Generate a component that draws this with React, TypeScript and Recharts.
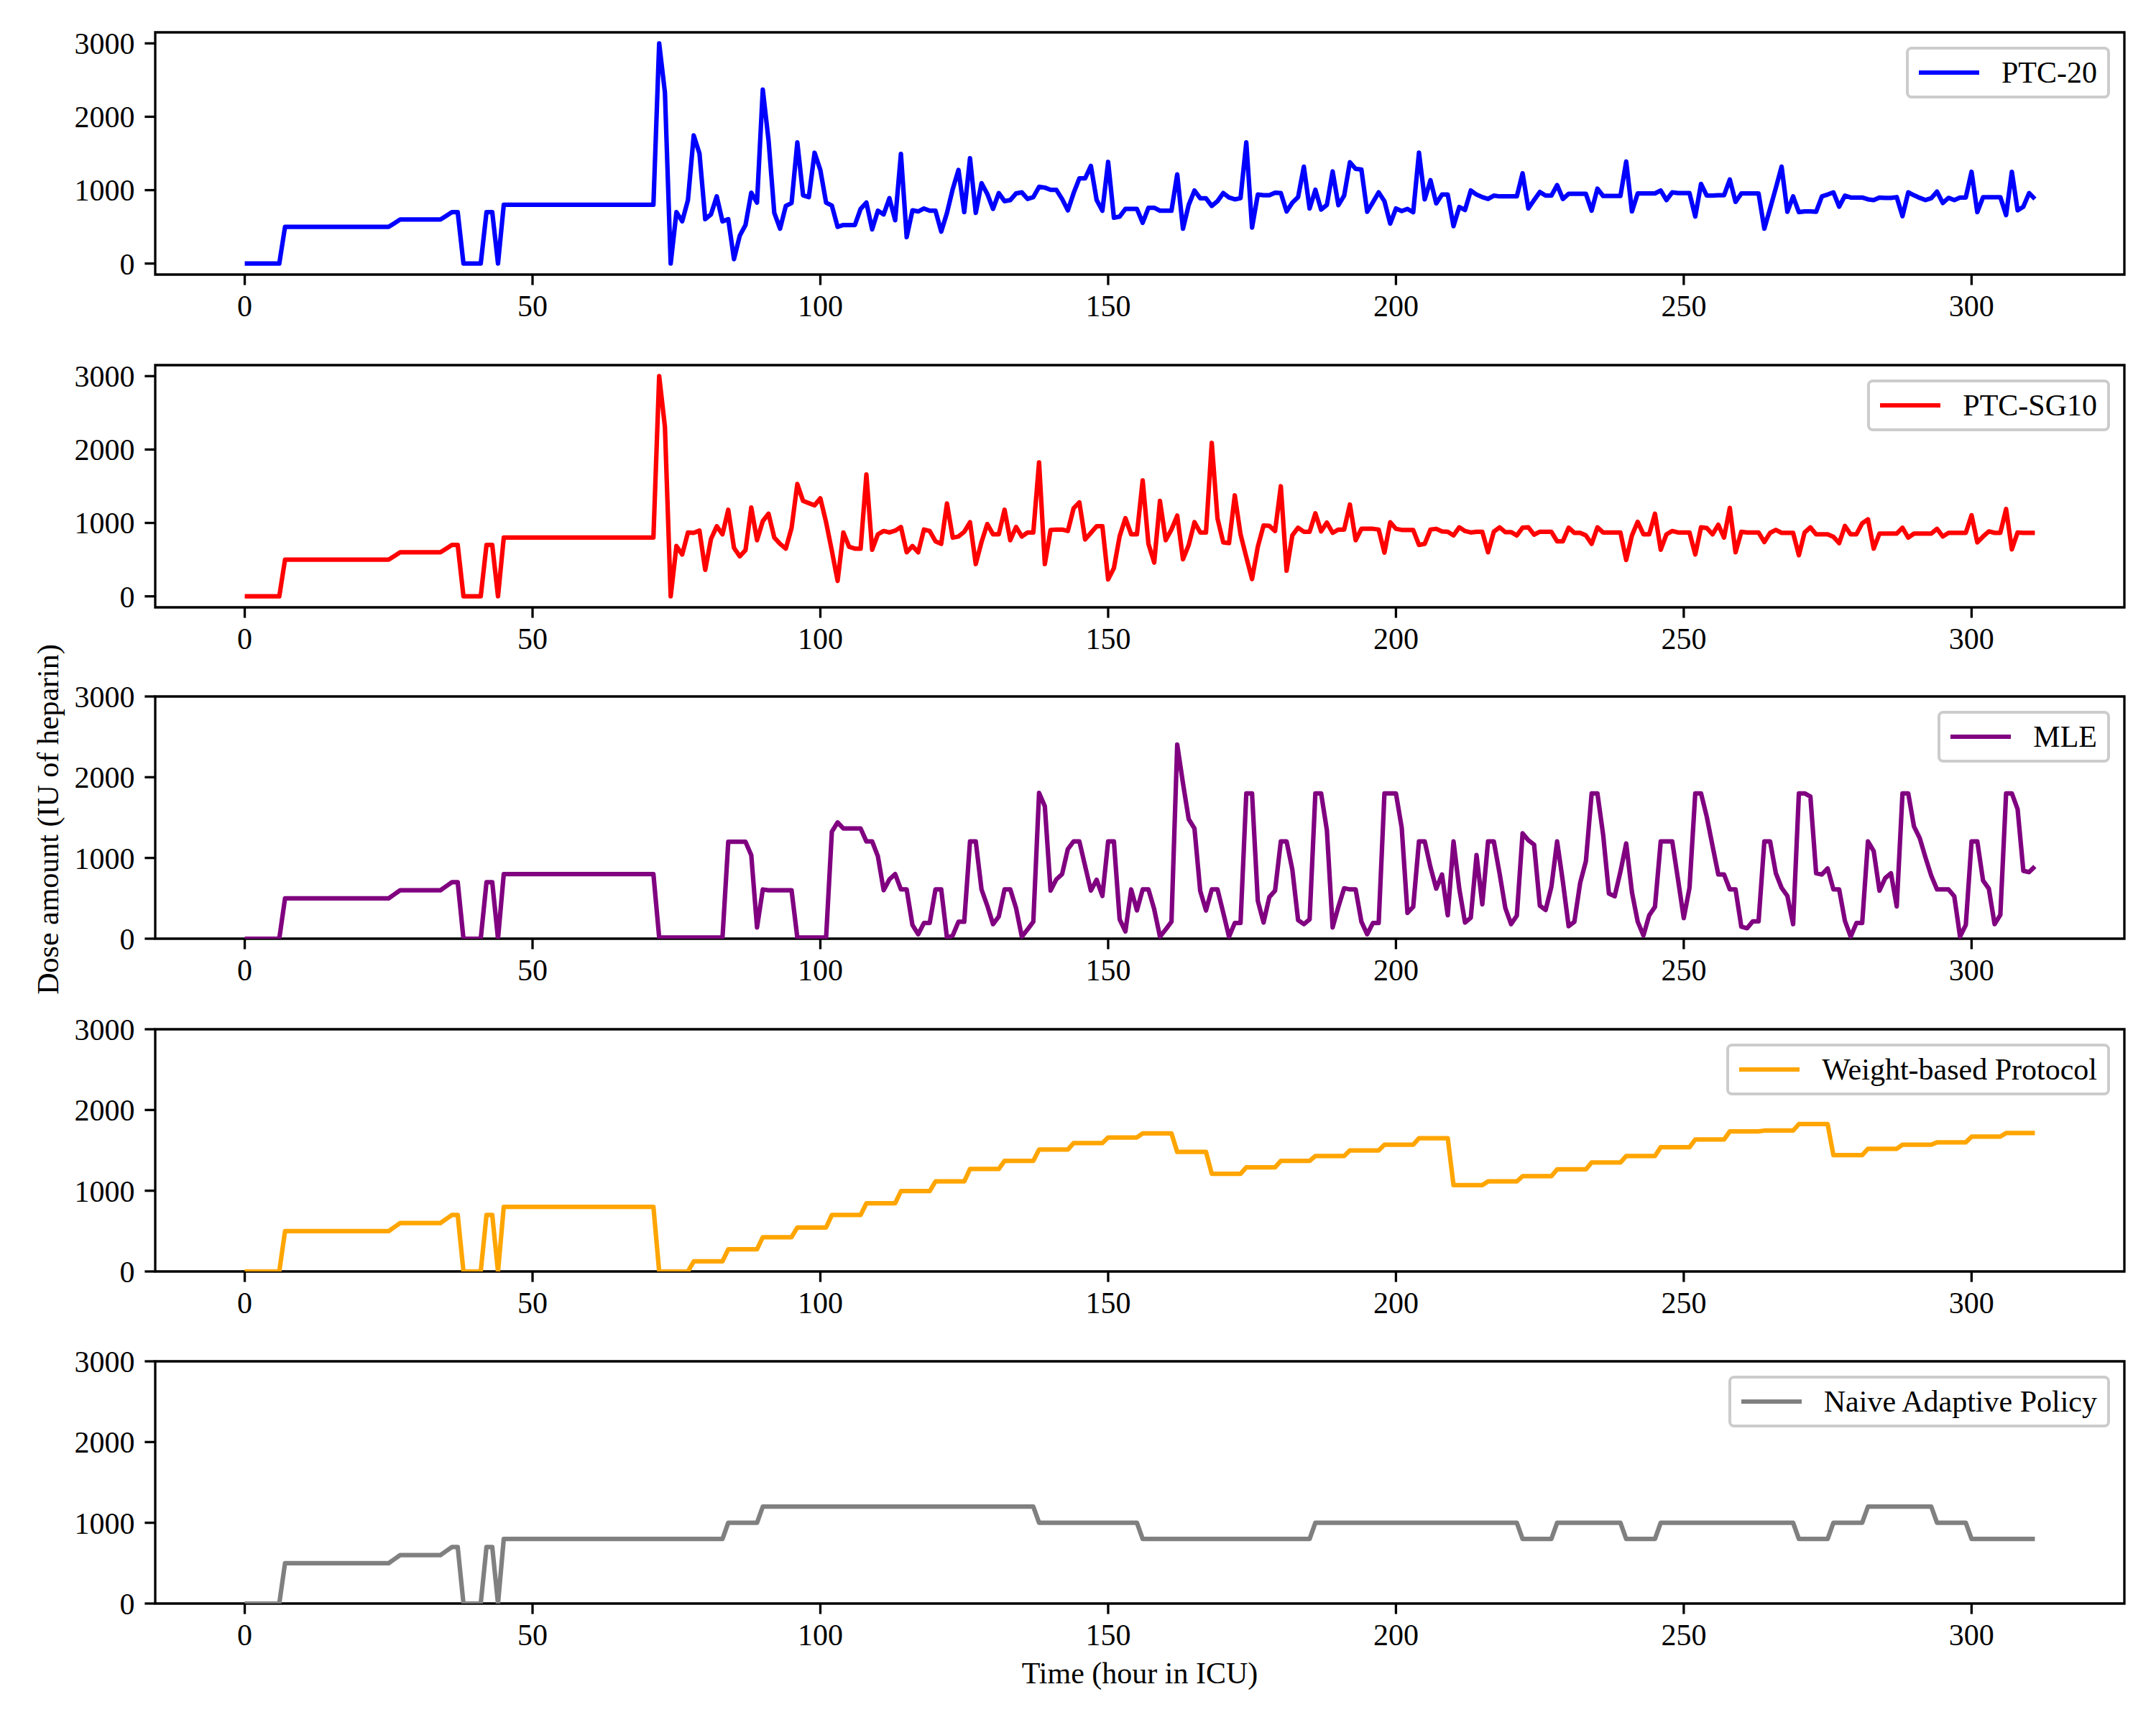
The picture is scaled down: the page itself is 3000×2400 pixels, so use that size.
import React from 'react';
import { LineChart, Line, XAxis, YAxis, ReferenceArea } from 'recharts';

// hours 0-71: every policy gives the same doses
const sharedStart = [
  0, 0, 0, 0, 0, 0, 0,
  500, 500, 500, 500, 500, 500, 500, 500, 500, 500, 500, 500, 500, 500, 500, 500, 500, 500, 500,
  550,
  600, 600, 600, 600, 600, 600, 600, 600,
  650, 700, 700,
  0, 0, 0, 0,
  700, 700,
  0,
  800, 800, 800, 800, 800, 800, 800, 800, 800, 800, 800, 800, 800, 800,
  800, 800, 800, 800, 800, 800, 800, 800, 800, 800, 800, 800, 800,
];

// hours 72-311
const ptc20Tail = [
  3000, 2330, 0, 700, 575, 865, 1745, 1500, 605, 670,
  915, 575, 605, 60, 380, 525, 965, 830, 2370, 1680,
  690, 475, 785, 825, 1650, 930, 905, 1510, 1275, 830,
  790, 500, 525, 525, 525, 745, 830, 465, 720, 670,
  890, 590, 1495, 360, 725, 710, 750, 720, 720, 435,
  690, 1015, 1275, 700, 1435, 690, 1095, 950, 745, 960,
  850, 865, 955, 970, 880, 905, 1045, 1035, 1005, 1005,
  880, 725, 960, 1160, 1160, 1330, 865, 720, 1385, 625,
  640, 745, 745, 745, 555, 760, 760, 720, 720, 720,
  1215, 475, 800, 995, 890, 890, 785, 850, 960, 900,
  875, 890, 1650, 490, 940, 930, 930, 965, 960, 710,
  830, 905, 1320, 750, 1005, 735, 800, 1255, 795, 925,
  1380, 1290, 1280, 705, 835, 970, 850, 545, 750, 715,
  745, 700, 1510, 875, 1135, 820, 940, 940, 510, 770,
  730, 995, 940, 905, 880, 925, 915, 915, 915, 915,
  1230, 750, 865, 975, 925, 925, 1070, 880, 950, 950,
  950, 950, 720, 1020, 920, 920, 920, 920, 1390, 710,
  955, 955, 955, 955, 995, 865, 970, 960, 960, 960,
  640, 1085, 925, 925, 930, 930, 1145, 840, 955, 955,
  955, 955, 475, 750, 1030, 1320, 705, 915, 700, 710,
  710, 705, 915, 940, 970, 775, 925, 900, 900, 900,
  875, 865, 900, 895, 895, 905, 645, 970, 930, 895,
  865, 890, 980, 825, 895, 865, 900, 900, 1250, 700,
  905, 905, 905, 905, 660, 1250, 725, 775, 960, 880,
];

const ptcSg10Tail = [
  3000, 2310, 0, 685, 570, 870, 865, 895, 360, 780,
  955, 845, 1180, 660, 545, 630, 1210, 765, 1025, 1125,
  800, 715, 650, 930, 1530, 1300, 1270, 1240, 1335, 1010,
  620, 210, 870, 675, 650, 650, 1660, 635, 845, 890,
  870, 895, 945, 600, 685, 600, 910, 890, 750, 715,
  1265, 800, 815, 880, 1010, 440, 740, 985, 845, 845,
  1180, 765, 945, 815, 870, 870, 1825, 440, 905, 910,
  910, 890, 1200, 1280, 775, 865, 955, 955, 230, 385,
  820, 1065, 845, 845, 1580, 715, 460, 1300, 765, 910,
  1100, 505, 700, 1010, 870, 870, 2090, 1060, 735, 725,
  1375, 845, 535, 235, 675, 965, 960, 890, 1500, 350,
  830, 935, 880, 880, 1130, 885, 1005, 865, 910, 910,
  1250, 765, 920, 920, 920, 910, 595, 1010, 920, 905,
  905, 905, 700, 715, 910, 920, 885, 880, 830, 940,
  890, 870, 880, 880, 600, 880, 940, 875, 875, 830,
  935, 940, 840, 880, 880, 880, 750, 750, 935, 865,
  865, 830, 715, 940, 870, 870, 870, 870, 495, 830,
  1015, 845, 845, 1125, 635, 845, 890, 870, 870, 870,
  570, 940, 930, 845, 975, 800, 1205, 600, 880, 870,
  870, 870, 740, 865, 905, 865, 865, 865, 560, 870,
  940, 845, 845, 845, 810, 725, 960, 845, 845, 995,
  1050, 650, 855, 855, 855, 855, 935, 800, 855, 855,
  855, 855, 920, 815, 865, 865, 865, 865, 1105, 735,
  815, 885, 865, 865, 1190, 640, 870, 865, 865, 865,
];

const mleTail = [
  15, 15, 15, 15, 15, 15, 15, 15, 15, 15,
  15, 15, 1200, 1200, 1200, 1200, 1035, 140, 610, 600,
  600, 600, 600, 600, 15, 15, 15, 15, 15, 15,
  1325, 1440, 1365, 1365, 1365, 1365, 1205, 1205, 1020, 600,
  735, 800, 610, 610, 170, 55, 195, 195, 610, 610,
  10, 40, 210, 210, 1205, 1205, 610, 410, 180, 275,
  610, 610, 380, 25, 115, 210, 1805, 1640, 595, 735,
  800, 1110, 1205, 1205, 900, 595, 730, 530, 1205, 1205,
  240, 90, 610, 350, 610, 610, 365, 25, 115, 210,
  2405, 1925, 1480, 1365, 590, 350, 610, 610, 320, 25,
  195, 195, 1800, 1800, 470, 200, 515, 595, 1205, 1205,
  855, 230, 180, 240, 1800, 1800, 1345, 140, 395, 625,
  610, 610, 210, 55, 195, 195, 1800, 1800, 1800, 1375,
  320, 395, 1205, 1205, 885, 620, 795, 290, 1205, 620,
  200, 260, 1035, 425, 1205, 1205, 810, 380, 180, 285,
  1305, 1220, 1165, 410, 355, 640, 1205, 705, 155, 210,
  690, 960, 1800, 1800, 1285, 560, 525, 830, 1180, 575,
  210, 40, 290, 395, 1205, 1205, 1205, 735, 255, 630,
  1800, 1800, 1510, 1150, 795, 795, 610, 610, 150, 130,
  215, 215, 1205, 1205, 810, 630, 530, 180, 1800, 1800,
  1760, 810, 795, 870, 610, 610, 220, 25, 195, 195,
  1205, 1085, 595, 750, 810, 400, 1800, 1800, 1390, 1245,
  1005, 780, 610, 610, 610, 525, 25, 170, 1205, 1205,
  720, 620, 180, 295, 1800, 1800, 1605, 840, 825, 895,
];

const weightTail = [
  0, 0, 0, 0, 0, 0,
  125, 125, 125, 125, 125, 125,
  275, 275, 275, 275, 275, 275,
  425, 425, 425, 425, 425, 425,
  545, 545, 545, 545, 545, 545,
  700, 700, 700, 700, 700, 700,
  845, 845, 845, 845, 845, 845,
  995, 995, 995, 995, 995, 995,
  1115, 1115, 1115, 1115, 1115, 1115,
  1270, 1270, 1270, 1270, 1270, 1270,
  1370, 1370, 1370, 1370, 1370, 1370,
  1510, 1510, 1510, 1510, 1510, 1510,
  1590, 1590, 1590, 1590, 1590, 1590,
  1660, 1660, 1660, 1660, 1660, 1660,
  1710, 1710, 1710, 1710, 1710, 1710,
  1480, 1480, 1480, 1480, 1480, 1480,
  1210, 1210, 1210, 1210, 1210, 1210,
  1290, 1290, 1290, 1290, 1290, 1290,
  1370, 1370, 1370, 1370, 1370, 1370,
  1430, 1430, 1430, 1430, 1430, 1430,
  1500, 1500, 1500, 1500, 1500, 1500,
  1570, 1570, 1570, 1570, 1570, 1570,
  1650, 1650, 1650, 1650, 1650, 1650,
  1070, 1070, 1070, 1070, 1070, 1070,
  1115, 1115, 1115, 1115, 1115, 1115,
  1180, 1180, 1180, 1180, 1180, 1180,
  1265, 1265, 1265, 1265, 1265, 1265,
  1350, 1350, 1350, 1350, 1350, 1350,
  1430, 1430, 1430, 1430, 1430, 1430,
  1540, 1540, 1540, 1540, 1540, 1540,
  1635, 1635, 1635, 1635, 1635, 1635,
  1735, 1735, 1735, 1735, 1735, 1735,
  1745, 1745, 1745, 1745, 1745, 1745,
  1825, 1825, 1825, 1825, 1825, 1825,
  1440, 1440, 1440, 1440, 1440, 1440,
  1520, 1520, 1520, 1520, 1520, 1520,
  1570, 1570, 1570, 1570, 1570, 1570,
  1600, 1600, 1600, 1600, 1600, 1600,
  1670, 1670, 1670, 1670, 1670, 1670,
  1715, 1715, 1715, 1715, 1715, 1715,
];

const naiveTail = [
  800, 800, 800, 800, 800, 800,
  800, 800, 800, 800, 800, 800,
  1000, 1000, 1000, 1000, 1000, 1000,
  1200, 1200, 1200, 1200, 1200, 1200,
  1200, 1200, 1200, 1200, 1200, 1200,
  1200, 1200, 1200, 1200, 1200, 1200,
  1200, 1200, 1200, 1200, 1200, 1200,
  1200, 1200, 1200, 1200, 1200, 1200,
  1200, 1200, 1200, 1200, 1200, 1200,
  1200, 1200, 1200, 1200, 1200, 1200,
  1200, 1200, 1200, 1200, 1200, 1200,
  1000, 1000, 1000, 1000, 1000, 1000,
  1000, 1000, 1000, 1000, 1000, 1000,
  1000, 1000, 1000, 1000, 1000, 1000,
  800, 800, 800, 800, 800, 800,
  800, 800, 800, 800, 800, 800,
  800, 800, 800, 800, 800, 800,
  800, 800, 800, 800, 800, 800,
  800, 800, 800, 800, 800, 800,
  1000, 1000, 1000, 1000, 1000, 1000,
  1000, 1000, 1000, 1000, 1000, 1000,
  1000, 1000, 1000, 1000, 1000, 1000,
  1000, 1000, 1000, 1000, 1000, 1000,
  1000, 1000, 1000, 1000, 1000, 1000,
  1000, 1000, 1000, 1000, 1000, 1000,
  800, 800, 800, 800, 800, 800,
  1000, 1000, 1000, 1000, 1000, 1000,
  1000, 1000, 1000, 1000, 1000, 1000,
  800, 800, 800, 800, 800, 800,
  1000, 1000, 1000, 1000, 1000, 1000,
  1000, 1000, 1000, 1000, 1000, 1000,
  1000, 1000, 1000, 1000, 1000, 1000,
  1000, 1000, 1000, 1000, 1000, 1000,
  800, 800, 800, 800, 800, 800,
  1000, 1000, 1000, 1000, 1000, 1000,
  1200, 1200, 1200, 1200, 1200, 1200,
  1200, 1200, 1200, 1200, 1200, 1200,
  1000, 1000, 1000, 1000, 1000, 1000,
  800, 800, 800, 800, 800, 800,
  800, 800, 800, 800, 800, 800,
];

const xTicks = [0, 50, 100, 150, 200, 250, 300];
const yTicks = [0, 1000, 2000, 3000];

const ptc20 = [...sharedStart, ...ptc20Tail];
const ptcSg10 = [...sharedStart, ...ptcSg10Tail];
const mle = [...sharedStart, ...mleTail];
const weightBased = [...sharedStart, ...weightTail];
const naive = [...sharedStart, ...naiveTail];

const data = ptc20.map((v, hour) => ({
  hour,
  ptc20: v,
  ptcSg10: ptcSg10[hour],
  mle: mle[hour],
  weightBased: weightBased[hour],
  naive: naive[hour],
}));

const FONT = '"Liberation Serif", "DejaVu Serif", serif';
const X_DOMAIN: [number, number] = [-15.55, 326.55];
const PAD_TOP = 40;

type PanelProps = {
  top: number,
  dataKey: string,
  color: string,
  label: string,
  yDomain: [number, number],
};

const Panel = ({ top, dataKey, color, label, yDomain }: PanelProps) => {
  const tickStyle = { fontSize: 42, fontFamily: FONT, fill: '#000' };
  return (
    <div style={{ position: 'absolute', left: 0, top: top - PAD_TOP }}>
      <LineChart width={3000} height={PAD_TOP + 337 + 80} data={data} margin={{ top: PAD_TOP, right: 44, bottom: 0, left: 66 }}>
        <XAxis
          dataKey="hour"
          type="number"
          domain={X_DOMAIN}
          allowDataOverflow
          ticks={xTicks}
          interval={0}
          height={80}
          axisLine={false}
          tickLine={{ stroke: '#000', strokeWidth: 3.3 }}
          tickSize={14.6}
          tickMargin={14}
          tick={tickStyle}
        />
        <YAxis
          type="number"
          domain={yDomain}
          allowDataOverflow
          ticks={yTicks}
          interval={0}
          width={150}
          axisLine={false}
          tickLine={{ stroke: '#000', strokeWidth: 3.3 }}
          tickSize={14.6}
          tickMargin={14}
          tick={tickStyle}
        />
        <Line
          type="linear"
          dataKey={dataKey}
          stroke={color}
          strokeWidth={6.25}
          strokeLinejoin="round"
          dot={false}
          isAnimationActive={false}
        />
        <ReferenceArea
          x1={X_DOMAIN[0]}
          x2={X_DOMAIN[1]}
          y1={yDomain[0]}
          y2={yDomain[1]}
          ifOverflow="visible"
          fill="none"
          fillOpacity={0}
          stroke="#000"
          strokeWidth={3.3}
        />
      </LineChart>
      <div
        style={{
          position: 'absolute',
          right: 64,
          top: PAD_TOP + 20,
          height: 72,
          boxSizing: 'border-box',
          padding: '0 14px',
          border: '4px solid #cccccc',
          borderRadius: 8,
          background: 'rgba(255,255,255,0.8)',
          display: 'flex',
          alignItems: 'center',
        }}
      >
        <div style={{ width: 84, height: 6, background: color, marginRight: 31 }} />
        <span style={{ fontFamily: FONT, fontSize: 42, lineHeight: 1, whiteSpace: 'nowrap' }}>{label}</span>
      </div>
    </div>
  );
};

const App = () => {
  return (
    <div style={{ position: 'absolute', left: 0, top: 0, width: 3000, height: 2400, background: '#fff', overflow: 'hidden' }}>
      <Panel top={45} dataKey="ptc20" color="#0000ff" label="PTC-20" yDomain={[-150, 3150]} />
      <Panel top={508} dataKey="ptcSg10" color="#ff0000" label="PTC-SG10" yDomain={[-150, 3150]} />
      <Panel top={969} dataKey="mle" color="#800080" label="MLE" yDomain={[0, 3000]} />
      <Panel top={1432} dataKey="weightBased" color="#ffa500" label="Weight-based Protocol" yDomain={[0, 3000]} />
      <Panel top={1894} dataKey="naive" color="#808080" label="Naive Adaptive Policy" yDomain={[0, 3000]} />
      <div
        style={{
          position: 'absolute',
          left: 67,
          top: 1140,
          transform: 'translate(-50%, -50%) rotate(-90deg)',
          fontFamily: FONT,
          fontSize: 42,
          whiteSpace: 'nowrap',
        }}
      >
        Dose amount (IU of heparin)
      </div>
      <div
        style={{
          position: 'absolute',
          left: 1586,
          top: 2328,
          transform: 'translate(-50%, -50%)',
          fontFamily: FONT,
          fontSize: 42,
          whiteSpace: 'nowrap',
        }}
      >
        Time (hour in ICU)
      </div>
    </div>
  );
};

export default App;
